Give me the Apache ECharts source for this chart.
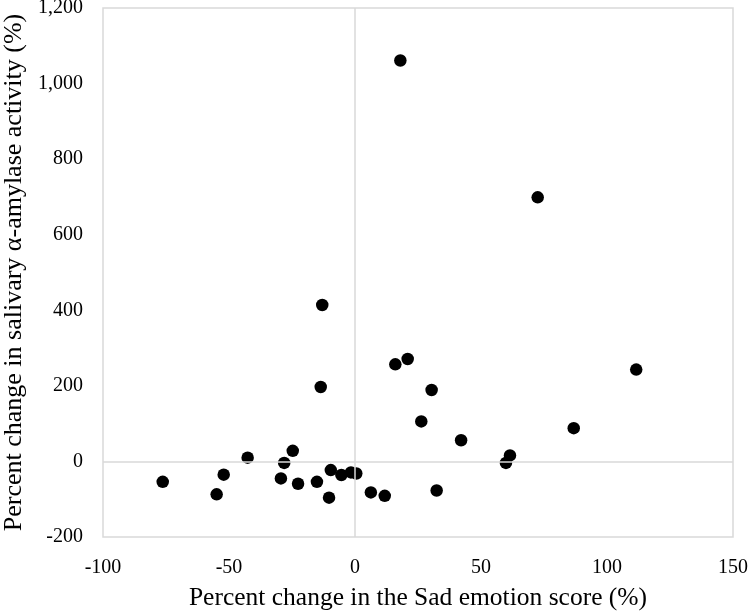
<!DOCTYPE html>
<html lang="en">
<head>
    <meta charset="UTF-8">
    <title>Sad emotion vs salivary amylase</title>
    <script src="https://cdn.jsdelivr.net/npm/echarts@6/dist/echarts.min.js"></script>
    <style>
        html, body { margin: 0; padding: 0; background: #fff; }
    </style>
</head>
<body>
    <div id="chart" style="width: 749px; height: 613px;"></div>

    <script>
        // percent change in Sad emotion score (x) and salivary amylase activity (y)
        var sadChange = [
            -76.3, -54.9, -52.1, -42.6, -29.4, -28.1, -24.7, -22.6, -15.1, -10.3,
            -9.6, -5.4, -1.6, 0.5, 6.3, 11.8, 16.0, 20.9, 30.4, 26.3,
            42.1, 86.8, 61.5, 59.9, 32.4, 18.0, 72.5, -13.0, -13.6, 111.6
        ]
        var amylaseChange = [
            -54, -87, -35, 10, -45, -4, 28, -59, -54, -96,
            -23, -36, -29, -32, -82, -91, 257, 271, 189, 106,
            56, 88, 16, -4, -77, 1061, 699, 414, 197, 243
        ]

        var xTicks = { min: -100, max: 150, interval: 50 }
        var yTicks = { min: -200, max: 1200, interval: 200 }

        var points = sadChange.map(function (x, i) { return [x, amylaseChange[i]] })

        var font = "'Liberation Serif', 'Times New Roman', serif"
        var grey = "#d9d9d9"

        var chart = echarts.init(document.getElementById("chart"))
        chart.setOption({
            animation: false,
            grid: {
                left: 103, right: 16, top: 8, bottom: 76,
                outerBoundsMode: "none",
                containLabel: false,
                show: true, borderColor: grey, borderWidth: 1.5
            },
            xAxis: {
                type: "value",
                min: xTicks.min, max: xTicks.max, interval: xTicks.interval,
                name: "Percent change in the Sad emotion score (%)",
                nameLocation: "middle",
                nameGap: 48,
                nameTextStyle: { fontFamily: font, fontSize: 25.5, color: "#000" },
                axisLine: { show: false, onZero: false },
                axisTick: { show: false },
                splitLine: { show: false },
                axisLabel: { fontFamily: font, fontSize: 20, color: "#000", margin: 21 }
            },
            yAxis: {
                type: "value",
                min: yTicks.min, max: yTicks.max, interval: yTicks.interval,
                name: "Percent change in salivary α-amylase activity (%)",
                nameLocation: "middle",
                nameGap: 72,
                nameTextStyle: { fontFamily: font, fontSize: 26, color: "#000" },
                axisLine: { show: false, onZero: false },
                axisTick: { show: false },
                splitLine: { show: false },
                axisLabel: {
                    fontFamily: font, fontSize: 20, color: "#000", margin: 20,
                    formatter: function (v) { return v.toLocaleString("en-US") }
                }
            },
            series: [{
                type: "scatter",
                data: points,
                symbol: "circle",
                symbolSize: 12.5,
                itemStyle: { color: "#000", opacity: 1 },
                markLine: {
                    silent: true,
                    symbol: "none",
                    label: { show: false },
                    lineStyle: { color: grey, type: "solid", width: 1.5 },
                    data: [{ xAxis: 0 }, { yAxis: 0 }]
                }
            }]
        })
    </script>
</body>
</html>
